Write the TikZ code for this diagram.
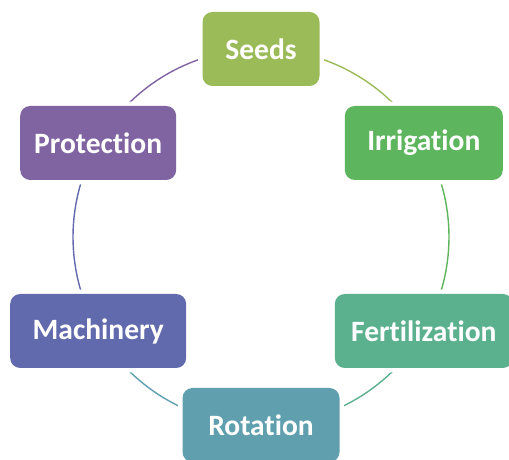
\documentclass[tikz,border=0pt]{standalone}
\usepackage{fontspec}
\setmainfont{Carlito}[Ligatures=NoCommon]
\usetikzlibrary{backgrounds}
\definecolor{seedsc}{HTML}{9BBB59}
\definecolor{irrigc}{HTML}{5DB65E}
\definecolor{fertc}{HTML}{5BB08E}
\definecolor{rotc}{HTML}{5F9FAE}
\definecolor{machc}{HTML}{626AAE}
\definecolor{protc}{HTML}{8064A2}
\begin{document}
\begin{tikzpicture}[
    etape/.style={rounded corners=0.25cm, minimum height=1.85cm, inner sep=0pt,
        preaction={draw=white, line width=0.22cm},
        text=white, font=\fontsize{21}{25}\selectfont\bfseries},
    lien/.style={line width=1pt}]
    \useasboundingbox (0,0) rectangle (12.725,11.5);
    % Cycle des pratiques agricoles
    \node[etape, fill=seedsc, minimum width=2.925cm] (seeds) at (6.525,10.275) {Seeds};
    \node[etape, fill=irrigc, minimum width=3.95cm] (irrigation) at (10.595,7.925) {Irrigation};
    \node[etape, fill=fertc, minimum width=4.45cm] (fertilization) at (10.595,3.225) {Fertilization};
    \node[etape, fill=rotc, minimum width=3.925cm] (rotation) at (6.525,0.875) {Rotation};
    \node[etape, fill=machc, minimum width=4.4cm] (machinery) at (2.455,3.225) {Machinery};
    \node[etape, fill=protc, minimum width=3.9cm] (protection) at (2.455,7.925) {Protection};
    % Arcs entre les etapes, sous les boites
    \begin{scope}[on background layer]
        \draw[lien, seedsc] (seeds.center) arc[start angle=90, end angle=30, radius=4.7];
        \draw[lien, irrigc] (irrigation.center) arc[start angle=30, end angle=-30, radius=4.7];
        \draw[lien, fertc] (fertilization.center) arc[start angle=-30, end angle=-90, radius=4.7];
        \draw[lien, rotc] (rotation.center) arc[start angle=-90, end angle=-150, radius=4.7];
        \draw[lien, machc] (machinery.center) arc[start angle=-150, end angle=-210, radius=4.7];
        \draw[lien, protc] (protection.center) arc[start angle=150, end angle=90, radius=4.7];
    \end{scope}
\end{tikzpicture}
\end{document}
